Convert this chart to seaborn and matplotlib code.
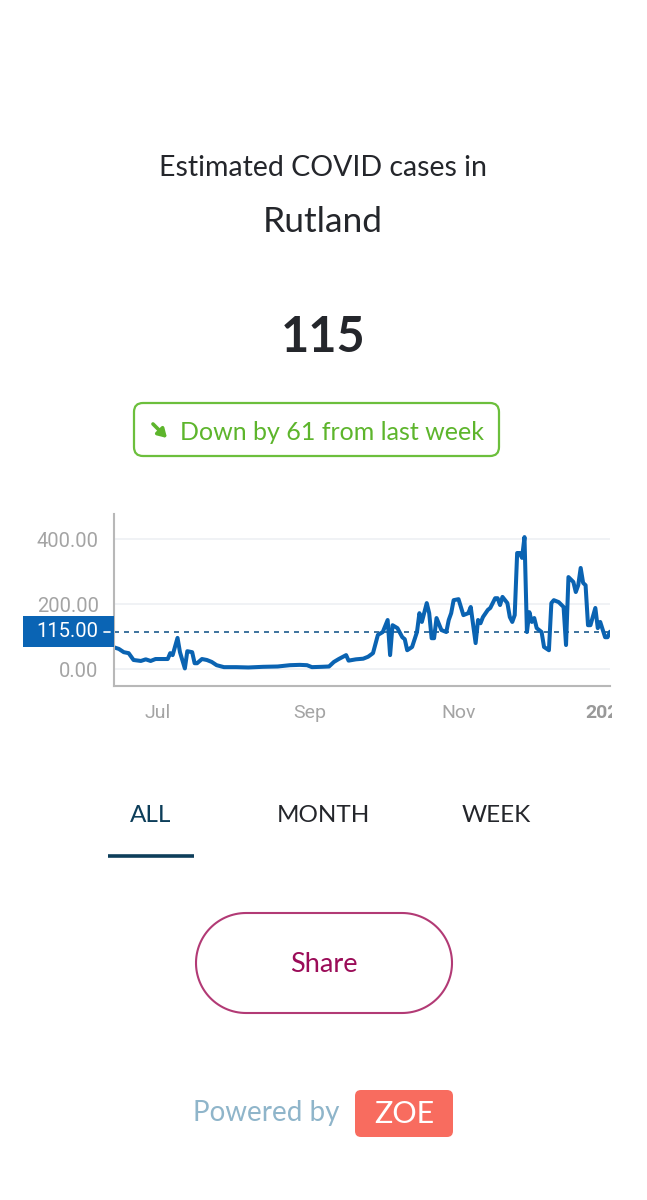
import pandas as pd
import numpy as np
import matplotlib
matplotlib.use("Agg")
import matplotlib.pyplot as plt
from matplotlib.patches import FancyBboxPatch, Rectangle, Polygon
from matplotlib.transforms import Bbox, blended_transform_factory
import seaborn as sns

# daily estimate
dates = ["2020-06-13", "2020-06-15", "2020-06-17", "2020-06-19", "2020-06-21", "2020-06-24",
         "2020-06-26", "2020-06-28", "2020-06-30", "2020-07-03", "2020-07-05", "2020-07-06",
         "2020-07-07", "2020-07-09", "2020-07-10", "2020-07-12", "2020-07-13", "2020-07-15",
         "2020-07-16", "2020-07-17", "2020-07-19", "2020-07-21", "2020-07-23", "2020-07-25",
         "2020-07-28", "2020-08-02", "2020-08-07", "2020-08-13", "2020-08-19", "2020-08-24",
         "2020-08-28", "2020-08-31", "2020-09-02", "2020-09-06", "2020-09-09", "2020-09-11",
         "2020-09-13", "2020-09-16", "2020-09-17", "2020-09-20", "2020-09-23", "2020-09-25",
         "2020-09-27", "2020-09-29", "2020-10-01", "2020-10-03", "2020-10-04", "2020-10-05",
         "2020-10-07", "2020-10-09", "2020-10-10", "2020-10-11", "2020-10-13", "2020-10-15",
         "2020-10-16", "2020-10-17", "2020-10-19", "2020-10-20", "2020-10-21", "2020-10-22",
         "2020-10-23", "2020-10-25", "2020-10-27", "2020-10-28", "2020-10-29", "2020-10-30",
         "2020-11-01", "2020-11-03", "2020-11-05", "2020-11-06", "2020-11-08", "2020-11-09",
         "2020-11-10", "2020-11-11", "2020-11-13", "2020-11-14", "2020-11-16", "2020-11-17",
         "2020-11-18", "2020-11-19", "2020-11-21", "2020-11-22", "2020-11-23", "2020-11-24",
         "2020-11-25", "2020-11-26", "2020-11-27", "2020-11-28", "2020-11-29", "2020-11-30",
         "2020-12-01", "2020-12-02", "2020-12-03", "2020-12-05", "2020-12-06", "2020-12-08",
         "2020-12-09", "2020-12-10", "2020-12-12", "2020-12-14", "2020-12-15", "2020-12-16",
         "2020-12-18", "2020-12-19", "2020-12-20", "2020-12-21", "2020-12-22", "2020-12-23",
         "2020-12-24", "2020-12-25", "2020-12-27", "2020-12-28", "2020-12-29", "2020-12-31",
         "2021-01-01", "2021-01-02"]
cases = [67, 62, 52, 49, 28, 25,
         30, 25, 31, 31, 31, 49,
         43, 96, 52, 2, 55, 52,
         18, 18, 31, 28, 22, 12,
         6, 6, 5, 7, 8, 12,
         13, 12, 6, 7, 8, 22,
         31, 43, 26, 30, 32, 38,
         49, 105, 114, 151, 43, 135,
         126, 98, 92, 58, 68, 114,
         172, 145, 203, 172, 95, 95,
         157, 120, 114, 151, 172, 212,
         215, 166, 172, 191, 80, 151,
         141, 160, 182, 188, 218, 218,
         197, 222, 203, 160, 145, 166,
         357, 357, 342, 406, 114, 175,
         145, 157, 126, 114, 68, 58,
         203, 212, 206, 191, 74, 283,
         268, 237, 258, 311, 265, 258,
         135, 135, 188, 126, 145, 98,
         98, 115]

current = 115
change = 61
region = "Rutland"
y_ticks = [0, 200, 400]
x_ticks = ["2020-07-01", "2020-09-01", "2020-11-01"]
x_labels = ["Jul", "Sep", "Nov"]
tabs = ["ALL", "MONTH", "WEEK"]

df = pd.DataFrame({"date": pd.to_datetime(dates), "cases": cases})

sns.set_style("white")
plt.rcParams["font.family"] = ["Lato", "DejaVu Sans"]

W, H = 647, 1200
fig = plt.figure(figsize=(W / 100, H / 100), dpi=100)
fig.patch.set_facecolor("white")

# overlay in pixel coordinates for the app chrome
ui = fig.add_axes([0, 0, 1, 1])
ui.set_xlim(0, W)
ui.set_ylim(H, 0)
ui.axis("off")

dark = "#24262b"
ui.text(323, 168, "Estimated COVID cases in", ha="center", va="center", fontsize=20.5, color=dark)
ui.text(323, 222, region, ha="center", va="center", fontsize=25.5, color=dark)
ui.text(323, 338, str(current), ha="center", va="center", fontsize=35, color=dark, fontweight="bold")

green = "#5db52c"
ui.add_patch(FancyBboxPatch((134, 403), 365, 53, boxstyle="round,pad=0,rounding_size=9",
                            facecolor="white", edgecolor="#6cbf3c", linewidth=1.6))
ui.annotate("", xy=(169, 440), xytext=(151, 422),
            arrowprops=dict(arrowstyle="-|>,head_length=0.5,head_width=0.3", color=green, lw=2.6))
ui.text(332, 432, f"Down by {change} from last week", ha="center", va="center", fontsize=18, color=green)

# tabs
tab_x = [151, 323, 496]
tab_colors = ["#0d3e5a", dark, dark]
for tx, lab, c in zip(tab_x, tabs, tab_colors):
    ui.text(tx, 815, lab, ha="center", va="center", fontsize=17.5, color=c)
ui.plot([108, 194], [856, 856], color="#0d3e5a", linewidth=2.6, solid_capstyle="butt")

# share button, a pill with half-circle ends
r = 50
cx0, cx1, cy = 196 + r, 452 - r, 963
t = np.linspace(-np.pi / 2, np.pi / 2, 60)
right = np.column_stack([cx1 + r * np.cos(t), cy + r * np.sin(t)])
left = np.column_stack([cx0 - r * np.cos(t), cy - r * np.sin(t)])
ui.add_patch(Polygon(np.vstack([right, left]), closed=True, facecolor="white",
                     edgecolor="#b23a75", linewidth=1.5))
ui.text(324, 965, "Share", ha="center", va="center", fontsize=19.5, color="#9b0c58")

# footer
ui.text(266, 1113, "Powered by", ha="center", va="center", fontsize=20, color="#8fb5ca")
ui.add_patch(FancyBboxPatch((355, 1090), 98, 47, boxstyle="round,pad=0,rounding_size=6",
                            facecolor="#f86c5f", edgecolor="none"))
ui.text(404, 1114, "ZOE", ha="center", va="center", fontsize=22, color="white")

# chart
ax = fig.add_axes([114 / W, 1 - 686 / H, 496 / W, 172 / H])
ax.patch.set_alpha(0)
sns.lineplot(data=df, x="date", y="cases", ax=ax, color="#0a63b2", linewidth=2.9)

ax.set_xlim(pd.Timestamp("2020-06-13"), pd.Timestamp("2021-01-02"))
ax.set_ylim(-52, 477)
ax.set_xlabel("")
ax.set_ylabel("")

grey = "#a4a4a4"
ax.set_yticks(y_ticks)
ax.set_yticklabels([f"{v:.2f}" for v in y_ticks], fontfamily="Roboto")
ax.set_xticks(list(pd.to_datetime(x_ticks)) + [pd.Timestamp("2021-01-01")])
ax.set_xticklabels(x_labels + [""], fontfamily="Roboto")
ax.tick_params(axis="y", length=6, width=1.2, color="#b8b8b8", pad=5, labelsize=14.5, labelcolor=grey)
ax.tick_params(axis="x", length=6, width=1.2, color="#b8b8b8", pad=7, labelsize=14, labelcolor=grey)
ax.grid(axis="y", color="#edf0f4", linewidth=1.2)
ax.set_axisbelow(True)
for side in ["top", "right"]:
    ax.spines[side].set_visible(False)
for side in ["left", "bottom"]:
    ax.spines[side].set_color("#b8b8b8")
    ax.spines[side].set_linewidth(1.5)

# current value reference line and label
ax.axhline(current, color="#1c5b8e", linewidth=1.2, linestyle=(0, (3, 3)), zorder=1)
tr = blended_transform_factory(ax.transAxes, ax.transData)
ax.add_patch(Rectangle((-91 / 496, current - 48), 91 / 496, 96, transform=tr,
                       facecolor="#0a64b4", edgecolor="none", clip_on=False, zorder=5))
ax.plot([-10 / 496, -4 / 496], [current, current], transform=tr, color="white",
        linewidth=1.2, clip_on=False, zorder=6)
ax.text(-16 / 496, current, f"{current:.2f}", transform=tr, ha="right", va="center",
        fontsize=14.5, color="white", fontfamily="Roboto", zorder=6)

# year label, cut off by the screen edge
yr = ax.text(pd.Timestamp("2021-01-01"), -0.105, "2021", ha="center", va="top",
             transform=blended_transform_factory(ax.transData, ax.transAxes),
             fontsize=14, color="#999999", fontweight="bold", fontfamily="Roboto")
yr.set_clip_on(True)
yr.set_clip_box(Bbox([[0, 0], [612, H]]))

fig.savefig("out.png", dpi=100, facecolor="white")
